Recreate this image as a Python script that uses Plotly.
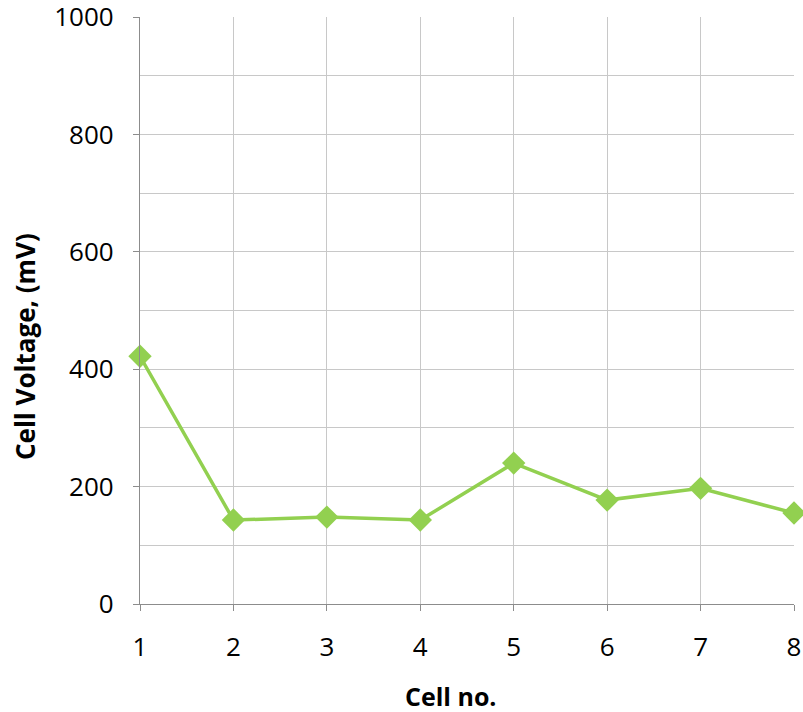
import plotly.graph_objects as go

cells = [1, 2, 3, 4, 5, 6, 7, 8]
voltage_mv = [422, 143, 148, 143, 240, 177, 197, 155]
y_ticks = [0, 200, 400, 600, 800, 1000]

FONT = "Open Sans"
fig = go.Figure()
fig.add_trace(go.Scatter(
    x=cells, y=voltage_mv, mode="lines+markers",
    line=dict(color="#92D050", width=3.5),
    marker=dict(symbol="diamond", size=18, color="#92D050"),
    cliponaxis=False, showlegend=False,
))

fig.update_layout(
    width=803, height=712,
    margin=dict(l=140, r=9, t=17, b=108),
    paper_bgcolor="white", plot_bgcolor="white",
    font=dict(family=FONT, size=24, color="black"),
    xaxis=dict(
        range=[1, 8], tickvals=cells, showgrid=True, gridcolor="#c8c8c8", gridwidth=1.3,
        showline=True, linecolor="#8c8c8c", linewidth=1.3,
        ticks="outside", ticklen=6, tickcolor="#8c8c8c", tickfont=dict(size=26),
        ticklabelstandoff=14, automargin=False, ticklabeloverflow="allow",
        zeroline=False, mirror=False,
    ),
    yaxis=dict(
        range=[0, 1000], tickvals=y_ticks, showgrid=True, gridcolor="#c8c8c8", gridwidth=1.3,
        minor=dict(dtick=100, showgrid=True, gridcolor="#c8c8c8", gridwidth=1.3, ticks=""),
        showline=True, linecolor="#8c8c8c", linewidth=1.3,
        ticks="outside", ticklen=6, tickcolor="#8c8c8c", tickfont=dict(size=26),
        ticklabelstandoff=14, automargin=False, ticklabeloverflow="allow",
        zeroline=False,
    ),
    annotations=[
        dict(text="<b>Cell no.</b>", xref="paper", yref="paper", x=(451-140)/654, y=-(696-604)/587,
             showarrow=False, font=dict(size=25), xanchor="center", yanchor="middle"),
        dict(text="<b>Cell Voltage, (mV)</b>", xref="paper", yref="paper", x=-(140-25)/654,
             y=(604-347)/587, showarrow=False, font=dict(size=26), textangle=-90,
             xanchor="center", yanchor="middle"),
    ],
)
fig.write_html("out.html")
